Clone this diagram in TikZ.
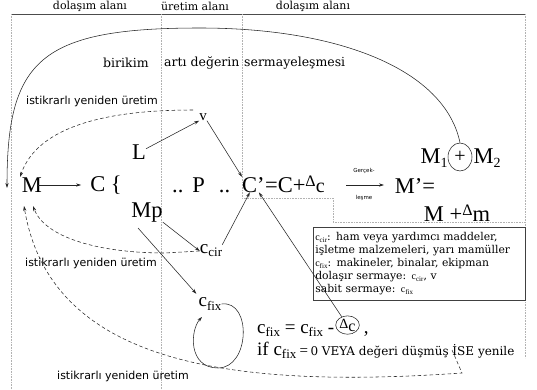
\documentclass[tikz,border=0pt]{standalone}
\usepackage{fontspec}
\setmainfont{Liberation Serif}
\newfontfamily\dserif{DejaVu Serif}
\newfontfamily\dsans{DejaVu Sans}
\usetikzlibrary{arrows.meta,shapes.geometric}
\newcommand{\fs}[1]{\fontsize{#1}{#1}\selectfont}
\newcommand{\lsub}[2]{\raisebox{-0.35ex}{\fs{#1}#2}}
\begin{document}
\begin{tikzpicture}[x=1pt,y=-1pt,
  frame/.style={draw=gray!60, line width=0.7pt, dash pattern=on 0.8pt off 0.8pt},
  topline/.style={draw=black!70, line width=0.6pt},
  conn/.style={draw=black!85, line width=0.55pt, -{Stealth[length=5pt,width=3.2pt]}},
  dconn/.style={conn, dash pattern=on 3.5pt off 2.5pt},
  big/.style={font=\fs{22.5}, inner sep=0pt},
  area/.style={font=\dserif\fs{11}, inner sep=0pt},
  mid/.style={font=\dserif\fs{12.5}, inner sep=0pt},
  ist/.style={font=\dsans\fs{11}, inner sep=0pt},
  tiny/.style={font=\dsans\fs{5.5}, inner sep=0pt}]
\useasboundingbox (0,0) rectangle (537,390);
% frame
\draw[topline] (11,14) -- (525,14);
\draw[frame] (11,14) -- (11,390);
\draw[frame] (161,14) -- (161,390);
\draw[frame] (242,14) -- (242,198) -- (333,198) -- (333,222) -- (525,222);
\draw[frame] (525,14) -- (525,358);
% area labels
\node[area] (a1) at (90,6) {dolaşım alanı};
\node[area] (a2) at (195,6) {üretim alanı};
\node[area] (a3) at (313,6) {dolaşım alanı};
\node[mid, anchor=west] (b1) at (103,63) {birikim};
\node[mid, anchor=west] (b2) at (164,63) {artı değerin};
\node[mid, anchor=west] (b3) at (244,63) {sermayeleşmesi};
\node[ist, anchor=west] (i1) at (26,101) {istikrarlı yeniden üretim};
\node[ist, anchor=west] (i2) at (25,263) {istikrarlı yeniden üretim};
\node[ist, anchor=west] (i3) at (57,376) {istikrarlı yeniden üretim};
% main terms
\node[big] (M) at (32,185) {M};
\node[big] (C) at (106,185) {C \{};
\node[big] (L) at (139,152) {L};
\node[big] (Mp) at (147,213) {Mp};
\node[big, anchor=west] (P) at (172,185) {..\hspace{9pt}P\hspace{14pt}..};
\node[big, anchor=base west] (Cp) at (242,192) {C’};
\node[big, anchor=base west] (Ceq) at (Cp.base east) {=C+\raisebox{6pt}{\fs{16}Δ}\fs{20}c};
\node[tiny] (g1) at (364,171) {Gerçek-};
\node[tiny] (g2) at (364,198) {leşme};
\coordinate (gs) at (346,185);
\coordinate (ge) at (384,185);
\node[big] (Mpr) at (415,186) {M’=};
\node[big] (M1) at (434,158) {M\lsub{14}{1}};
\node[draw=black!85, line width=0.55pt, ellipse, minimum width=24pt, minimum height=28pt, inner sep=0pt, font=\fs{20}] (plus) at (460,157) {+};
\node[big] (M2) at (487,158) {M\lsub{14}{2}};
\node[big] (Mdm) at (457,213) {M +\raisebox{6pt}{\fs{16}Δ}m};
\node[font=\fs{15}, inner sep=0pt] (v) at (203,117) {v};
\node[inner sep=0pt] (ccir) at (211,251) {\fs{19}c\lsub{13}{cir}};
\node[inner sep=0pt] (cfix) at (210,304) {\fs{19}c\lsub{13}{fix}};
% equations
\node[anchor=base west, inner sep=0pt] (eq1) at (257,333) {\fs{19}c\lsub{13}{fix} = c\lsub{13}{fix} -};
\node[draw=black!85, line width=0.55pt, ellipse, inner sep=0.3pt, anchor=west] (dc) at ([xshift=1pt,yshift=5pt]eq1.east) {\raisebox{3pt}{\fs{14}Δ}\fs{16}c};
\node[anchor=base west, inner sep=0pt, font=\fs{19}] (comma) at ([xshift=4pt]dc.east |- eq1.base) {,};
\node[anchor=base west, inner sep=0pt] (eq2) at (257,355) {\fs{19}if c\lsub{13}{fix}\,\fs{15}=\,\dserif\fs{12}0 VEYA değeri düşmüş İSE yenile};
% info box
\node[draw=black!75, line width=0.6pt, anchor=north west, text width=208pt, minimum height=73pt, inner sep=2pt, align=left, font=\dserif\fontsize{10.8}{13}\selectfont] (box) at (313,227)
{{\fs{10}\rmfamily c\lsub{7}{cir}}: ham veya yardımcı maddeler,\\
işletme malzemeleri, yarı mamüller\\
{\fs{10}\rmfamily c\lsub{7}{fix}}: makineler, binalar, ekipman\\
dolaşır sermaye: {\fs{10}\rmfamily c\lsub{7}{cir}}, v\\
sabit sermaye: {\fs{10}\rmfamily c\lsub{7}{fix}}};
% coordinates
\coordinate (mleft) at (7,188);
\coordinate (mtop) at (20,177);
\coordinate (mb1) at (33,206);
\coordinate (mb2) at (24,206);
\coordinate (dstart) at (193,110);
\coordinate (mpb) at (138,228);
\coordinate (ise) at (452,350);
% connectors
\draw[conn] ([xshift=-4pt]M.east) -- ([xshift=-9pt]C.west);
\draw[conn] (gs) -- (ge);
\draw[conn] (plus.north) .. controls (445,70) and (340,28) .. (200,28) .. controls (40,28) and (7,60) .. (mleft);
\draw[dconn] (dstart) .. controls (110,110) and (38,125) .. (mtop);
\draw[conn] (L.25) -- (v.south west);
\draw[conn] (v.south east) -- (Cp.north west);
\draw[conn] (Mp.-30) -- (ccir.west);
\draw[conn] (mpb) -- ([xshift=-2pt,yshift=4pt]cfix.north west);
\draw[conn] (ccir.north east) -- (Cp.-115);
\draw[conn] (dc.125) -- (Cp.-55);
\draw[dconn] (ccir.west) -- (165,253) .. controls (100,253) and (45,238) .. (mb1);
\draw[dconn] (ise) -- (462,373) .. controls (220,390) and (50,360) .. (mb2);
\draw[conn] (cfix.east) .. controls (252,300) and (250,368) .. (218,368) .. controls (188,368) and (190,330) .. (202,317);
\end{tikzpicture}
\end{document}
